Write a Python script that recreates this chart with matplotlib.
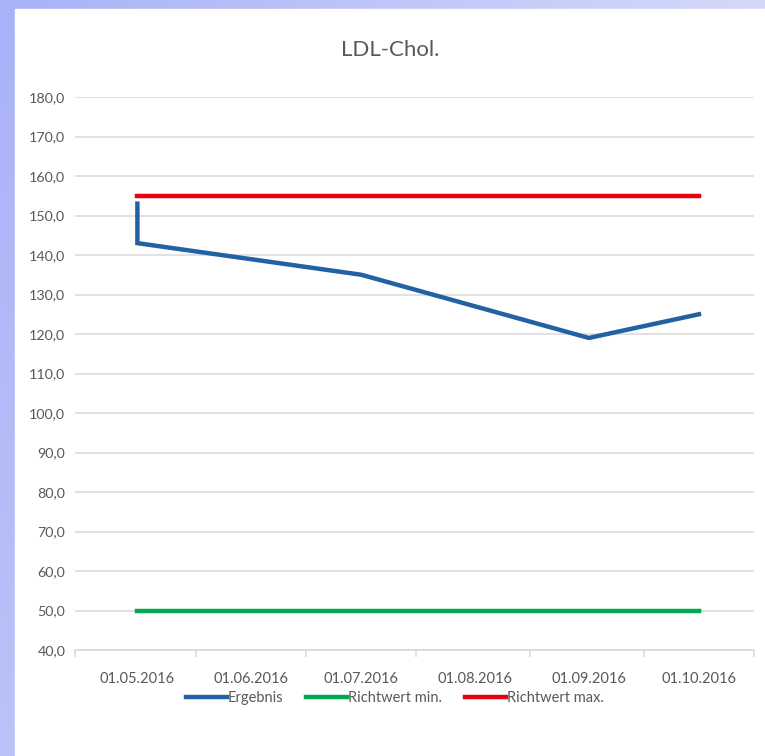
import matplotlib
matplotlib.use("Agg")
import matplotlib.pyplot as plt
from matplotlib.patches import Rectangle
import numpy as np
import pandas as pd

plt.rcParams['font.family'] = ['Lato', 'DejaVu Sans']

# data
ergebnis_dates = ["01.05.2016", "01.05.2016", "01.07.2016", "01.09.2016", "01.10.2016"]
ergebnis_vals = [153, 143, 135, 119, 125]
ref_dates = ["01.05.2016", "01.10.2016"]
richtwert_min = [50, 50]
richtwert_max = [155, 155]
tick_dates = ["01.05.2016", "01.06.2016", "01.07.2016", "01.08.2016", "01.09.2016", "01.10.2016"]

to_dt = lambda s: pd.to_datetime(s, format="%d.%m.%Y")

W, H = 765, 756
fig = plt.figure(figsize=(W / 100, H / 100), dpi=100)
fig.patch.set_facecolor("white")

# lavender border (gradient) behind the white chart panel
bg = fig.add_axes([0, 0, 1, 1], zorder=-10)
gx = np.linspace(0, 1, 256)
gy = np.linspace(0, 1, 256)
grad = gx[None, :] * 0.6 + gy[:, None] * 0.25
bg.imshow(grad, cmap=matplotlib.colors.LinearSegmentedColormap.from_list(
    "lav", ["#a9b2f7", "#e6e9fb"]), extent=[0, 1, 0, 1], aspect="auto", origin="upper")
bg.add_patch(Rectangle((15 / W, 0), 1, 1 - 9 / H, color="white", transform=bg.transAxes))
bg.set_xlim(0, 1)
bg.set_ylim(0, 1)
bg.axis("off")

ax = fig.add_axes([75 / W, 1 - 650 / H, (754 - 75) / W, (650 - 97) / H])
ax.set_facecolor("none")

ax.plot(to_dt(ergebnis_dates), ergebnis_vals, color="#2262a2", lw=3.2,
        solid_joinstyle="miter", label="Ergebnis", zorder=3)
ax.plot(to_dt(ref_dates), richtwert_min, color="#00a84f", lw=3.2,
        label="Richtwert min.", zorder=3)
ax.plot(to_dt(ref_dates), richtwert_max, color="#e8000b", lw=3.2,
        label="Richtwert max.", zorder=3)

ax.set_ylim(40, 180)
ax.set_yticks(np.arange(40, 181, 10))
ax.set_yticklabels([f"{v:.1f}".replace(".", ",") for v in np.arange(40, 181, 10)])
ax.grid(axis="y", color="#d9d9d9", lw=1.1)
ax.set_axisbelow(True)

# month buckets: labels at month start, tick marks between them
x_lo, x_hi = to_dt("14.04.2016"), to_dt("16.10.2016")
ax.set_xlim(x_lo, x_hi)
ax.set_xticks(to_dt(tick_dates))
ax.set_xticklabels(tick_dates)
sep = [x_lo] + list(to_dt(["17.05.2016", "16.06.2016", "16.07.2016",
                           "16.08.2016", "16.09.2016"])) + [x_hi]
ax.set_xticks(sep, minor=True)

ax.tick_params(axis="y", length=0, pad=7, labelsize=10.3, labelcolor="#595959")
ax.tick_params(axis="x", which="major", length=0, pad=16, labelsize=10.5, labelcolor="#595959")
ax.tick_params(axis="x", which="minor", length=5, color="#d9d9d9", width=1.1)

for s in ["top", "right", "left"]:
    ax.spines[s].set_visible(False)
ax.spines["bottom"].set_color("#d9d9d9")
ax.spines["bottom"].set_linewidth(1.1)

fig.text(0.51, 1 - 50 / H, "LDL-Chol.", ha="center", va="center",
         fontsize=16, color="#595959")

fig.legend(loc="center", bbox_to_anchor=(0.516, 1 - 698 / H), ncol=3, frameon=False,
           fontsize=10.5, labelcolor="#595959", handlelength=2.8, handletextpad=0.05,
           columnspacing=1.6)

fig.savefig("out.png", dpi=100)
